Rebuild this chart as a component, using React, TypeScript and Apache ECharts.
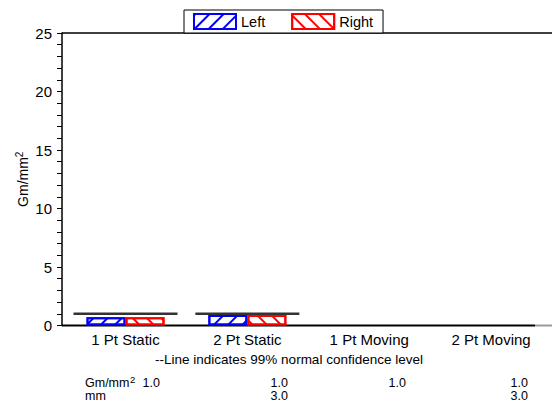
import React, { useEffect, useRef } from 'react';
import * as echarts from 'echarts';

// Test categories and measured pressures (Gm/mm²) for each side
const categories = ['1 Pt Static', '2 Pt Static', '1 Pt Moving', '2 Pt Moving'];
const leftValues: (number | null)[] = [0.7, 0.9, null, null];
const rightValues: (number | null)[] = [0.7, 0.9, null, null];
// 99% normal confidence level per category
const confidenceLevel: (number | null)[] = [1.0, 1.0, null, null];
// Value axis range
const yMin = 0;
const yMax = 25;
const yStep = 5;
// Footnote and summary table beneath the chart
const noteText = '--Line indicates 99% normal confidence level';
const tableUnits = [
  { base: 'Gm/mm', sup: '2' },
  { base: 'mm', sup: '' },
];
const gmRow = ['1.0', '1.0', '1.0', '1.0'];
const mmRow = ['', '3.0', '', '3.0'];

const FONT = '"Liberation Sans", Arial, Helvetica, sans-serif';

const hatch = (color: string, rotation: number) => ({
  symbol: 'rect',
  symbolSize: 1,
  color,
  dashArrayX: [1, 0],
  dashArrayY: [2, 8],
  rotation,
});

export default function App() {
  const ref = useRef<HTMLDivElement>(null);

  useEffect(() => {
    if (!ref.current) return;
    const chart = echarts.init(ref.current, null, { renderer: 'svg' });

    const axisLeft = 62;
    const axisBottom = 325.5;
    const colRight = [160, 288, 406, 528];
    const rowY = [383, 396];
    const tableFont = 12.5;

    const tableTexts: any[] = [];
    tableUnits.forEach((u, i) => {
      tableTexts.push({
        type: 'text',
        x: 85,
        y: rowY[i],
        style: {
          text: u.base,
          fill: '#000',
          fontSize: tableFont,
          lineHeight: 12,
          fontFamily: FONT,
          align: 'left',
          verticalAlign: 'middle',
        },
      });
      if (u.sup) {
        tableTexts.push({
          type: 'text',
          x: 85 + 45,
          y: rowY[i] - 4,
          style: {
            text: u.sup,
            fill: '#000',
            fontSize: 9.5,
            lineHeight: 9,
            fontFamily: FONT,
            align: 'left',
            verticalAlign: 'middle',
          },
        });
      }
    });
    [gmRow, mmRow].forEach((row, r) => {
      row.forEach((v, c) => {
        if (!v) return;
        tableTexts.push({
          type: 'text',
          x: colRight[c],
          y: rowY[r],
          style: {
            text: v,
            fill: '#000',
            fontSize: tableFont,
            lineHeight: 12,
            fontFamily: FONT,
            align: 'right',
            verticalAlign: 'middle',
          },
        });
      });
    });

    chart.setOption({
      animation: false,
      backgroundColor: '#fff',
      grid: { left: 64.6, top: 33, width: 491, height: 292.5, containLabel: false },
      legend: {
        data: ['Left', 'Right'],
        left: 184,
        top: 10,
        icon: 'rect',
        itemWidth: 42,
        itemHeight: 15,
        itemGap: 26,
        padding: [3, 10, 3, 9],
        borderColor: '#000',
        borderWidth: 1,
        backgroundColor: '#fff',
        z: 10,
        textStyle: { fontSize: 14.5, color: '#000', fontFamily: FONT },
      },
      xAxis: {
        type: 'category',
        data: categories,
        axisLine: { show: false },
        axisTick: { show: false },
        axisLabel: { color: '#000', fontSize: 15, fontFamily: FONT, margin: 6 },
        splitLine: { show: false },
      },
      yAxis: {
        type: 'value',
        min: yMin,
        max: yMax,
        interval: yStep,
        offset: 2.6,
        name: 'Gm/mm{sup|2}',
        nameLocation: 'middle',
        nameRotate: 90,
        nameGap: 31,
        nameMoveOverlap: false,
        nameTextStyle: {
          color: '#000',
          fontSize: 14,
          fontFamily: FONT,
          rich: { sup: { fontSize: 10, fontFamily: FONT, color: '#000', verticalAlign: 'bottom', padding: [0, 0, 7, 0] } },
        },
        axisLine: { show: true, lineStyle: { color: '#000', width: 1.5 } },
        axisTick: { show: true, length: 5, lineStyle: { color: '#000', width: 1 } },
        minorTick: { show: true, splitNumber: 5, length: 5, lineStyle: { color: '#000', width: 1 } },
        axisLabel: { color: '#000', fontSize: 15, fontFamily: FONT, margin: 10 },
        splitLine: { show: false },
      },
      series: [
        {
          name: 'Left',
          type: 'bar',
          data: leftValues,
          barWidth: 39,
          barGap: '0%',
          itemStyle: { color: '#fff', borderColor: '#0000ff', borderWidth: 2, decal: hatch('#0000ff', -Math.PI / 4) },
        },
        {
          name: 'Right',
          type: 'bar',
          data: rightValues,
          barWidth: 39,
          itemStyle: { color: '#fff', borderColor: '#ff0000', borderWidth: 2, decal: hatch('#ff0000', Math.PI / 4) },
        },
        {
          name: 'Confidence',
          type: 'scatter',
          data: confidenceLevel,
          symbol: 'rect',
          symbolSize: [104, 2.5],
          itemStyle: { color: '#000' },
          z: 5,
        },
      ],
      graphic: [
        { type: 'line', z: 1, shape: { x1: axisLeft, y1: 33, x2: 552, y2: 33 }, style: { stroke: '#000', lineWidth: 1.5 } },
        { type: 'line', z: 1, shape: { x1: axisLeft, y1: axisBottom, x2: 535, y2: axisBottom }, style: { stroke: '#000', lineWidth: 2 } },
        { type: 'line', z: 1, shape: { x1: 535, y1: axisBottom, x2: 552, y2: axisBottom }, style: { stroke: '#999', lineWidth: 2 } },
        {
          type: 'text',
          x: 289,
          y: 359,
          style: { text: noteText, fill: '#000', fontSize: 13.5, fontFamily: FONT, align: 'center', verticalAlign: 'middle' },
        },
        ...tableTexts,
      ],
    });

    return () => chart.dispose();
  }, []);

  return (
    <div
      ref={ref}
      style={{ position: 'fixed', left: 0, top: 0, width: 552, height: 406, background: '#fff' }}
    />
  );
}
